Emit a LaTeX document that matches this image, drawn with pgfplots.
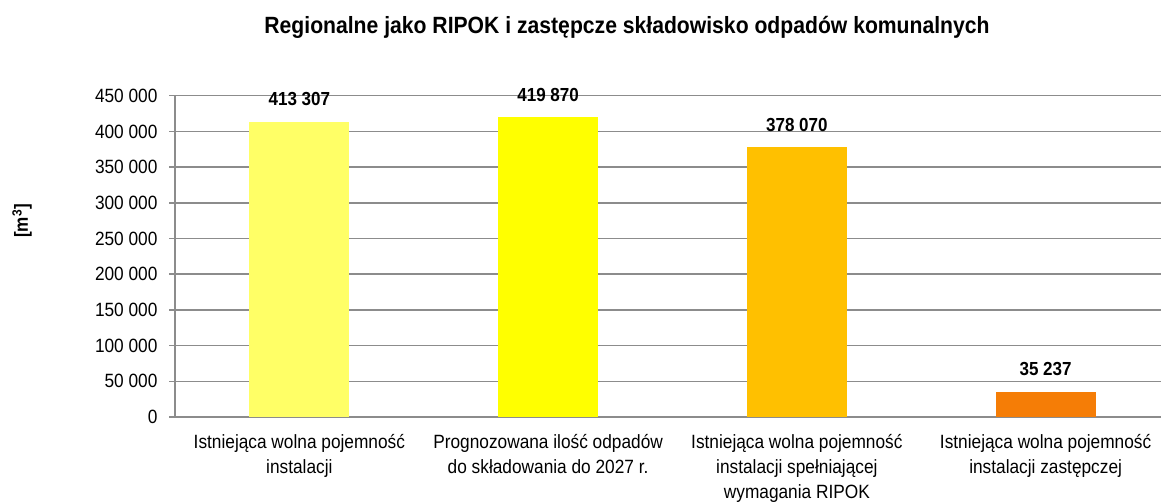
\documentclass[border=0pt]{standalone}
\usepackage{fontspec}
\setmainfont{Liberation Sans}[FakeStretch=0.9]
\usepackage{pgfplots}
\pgfplotsset{compat=1.18}

\definecolor{barA}{HTML}{FFFF66}
\definecolor{barB}{HTML}{FFFF00}
\definecolor{barC}{HTML}{FFC000}
\definecolor{barD}{HTML}{F57D06}
\definecolor{gridgray}{HTML}{8C8C8C}

\begin{document}
\begin{tikzpicture}
\path[use as bounding box] (0pt,0pt) rectangle (1161pt,501pt);

\node[anchor=base, font=\bfseries\fontsize{23.5}{26}\selectfont] at (627pt,467pt)
  {Regionalne jako RIPOK i zastępcze składowisko odpadów komunalnych};
\node[rotate=90, font=\bfseries\fontsize{19}{22}\selectfont] at (22pt,280pt) {[m\textsuperscript{3}]};

\begin{axis}[
    at={(175pt,84pt)}, anchor=south west,
    scale only axis, width=995pt, height=321.3pt,
    xmin=-0.5, xmax=3.5, ymin=0, ymax=450000,
    ytick={0,50000,...,450000},
    xtick={0,1,2,3},
    xticklabels={
      {Istniejąca wolna pojemność\\instalacji},
      {Prognozowana ilość odpadów\\do składowania do 2027 r.},
      {Istniejąca wolna pojemność\\instalacji spełniającej\\wymagania RIPOK},
      {Istniejąca wolna pojemność\\instalacji zastępczej}},
    xticklabel style={align=center, font=\fontsize{19.2}{25}\selectfont, yshift=-8pt},
    yticklabel style={font=\fontsize{19.2}{22}\selectfont, xshift=-8pt},
    scaled y ticks=false,
    /pgf/number format/fixed,
    /pgf/number format/1000 sep={\ },
    /pgf/number format/assume math mode=true,
    axis lines*=left,
    axis line style={draw=gridgray, line width=1.5pt},
    ymajorgrids,
    major grid style={draw=gridgray, line width=1.5pt},
    tick align=outside,
    major tick length=6pt,
    ytick style={draw=gridgray, line width=1.5pt},
    xtick style={draw=none},
    ybar, bar width=100pt,
    nodes near coords,
    nodes near coords style={font=\bfseries\fontsize{18.9}{22}\selectfont, anchor=base, yshift=16pt},
  ]
  \addplot[fill=barA, draw=none, bar shift=0pt] coordinates {(0,413307)};
  \addplot[fill=barB, draw=none, bar shift=0pt] coordinates {(1,419870)};
  \addplot[fill=barC, draw=none, bar shift=0pt] coordinates {(2,378070)};
  \addplot[fill=barD, draw=none, bar shift=0pt] coordinates {(3,35237)};
\end{axis}
\end{tikzpicture}
\end{document}
